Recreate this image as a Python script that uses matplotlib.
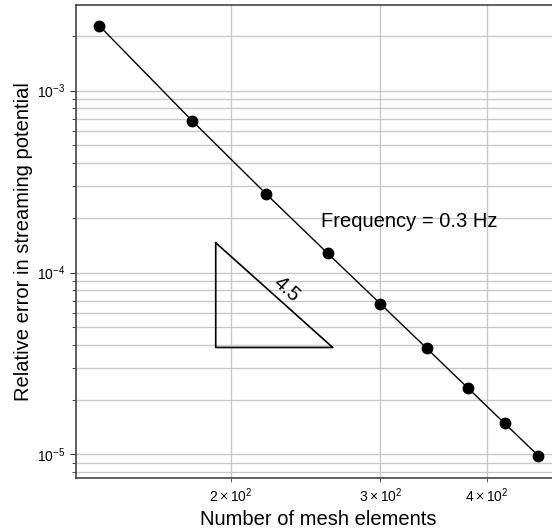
import numpy as np
import matplotlib.pyplot as plt

plt.rcParams['font.family'] = ['Liberation Sans', 'DejaVu Sans']

# mesh refinement study
n_elements = [140, 180, 220, 260, 300, 340, 380, 420, 460]
rel_error = [2.28e-3, 6.85e-4, 2.71e-4, 1.275e-4, 6.72e-5, 3.83e-5, 2.32e-5, 1.478e-5, 9.83e-6]

# slope triangle corners
tri_x = [192, 192, 263.6, 192]
tri_y = [1.457e-4, 3.87e-5, 3.87e-5, 1.457e-4]
slope_label = "4.5"

fig = plt.figure(figsize=(5.52, 5.31), dpi=100)
# right spine sits just past the edge of the canvas
ax = fig.add_axes([0.1377, 0.0998, 0.877, 0.8908])

ax.loglog(n_elements, rel_error, color='black', marker='o', markersize=7.5, linewidth=1.0)
ax.plot(tri_x, tri_y, color='black', linewidth=1.2)
ax.text(232.8, 8.04e-5, slope_label, fontsize=14.5, rotation=-42, ha='center', va='center')
ax.text(255.2, 1.90e-4, "Frequency = 0.3 Hz", fontsize=14.5, ha='left', va='center')

ax.set_xlim(131.5, 488)
ax.set_ylim(7.41e-6, 2.96e-3)

ax.grid(True, which='both', axis='y', color='#c8c8c8', linewidth=1.0)
ax.grid(True, which='minor', axis='x', color='#c8c8c8', linewidth=1.0)
ax.set_axisbelow(True)

ax.tick_params(which='both', direction='out', labelsize=10, color='#333333')
ax.tick_params(which='major', length=4)
ax.tick_params(which='minor', length=3)
ax.tick_params(axis='y', which='minor', labelleft=False)

for s in ax.spines.values():
    s.set_color('#444444')
    s.set_linewidth(1.2)

ax.set_xlabel("Number of mesh elements", fontsize=14.5, labelpad=3)
ax.set_ylabel("Relative error in streaming potential", fontsize=14.5, labelpad=3)

fig.savefig("out.png", dpi=100)
